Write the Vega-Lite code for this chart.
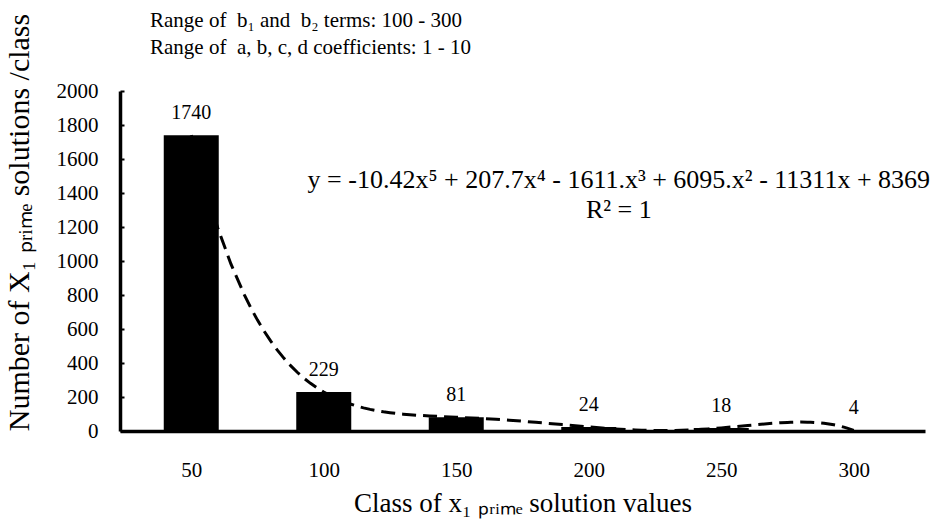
{
  "$schema": "https://vega.github.io/schema/vega-lite/v6.json",
  "width": 805,
  "height": 340,
  "autosize": {"type": "none"},
  "padding": {"left": 120, "top": 91, "right": 16, "bottom": 92},
  "background": "white",
  "config": {"font": "Liberation Serif", "view": {"stroke": null}},
  "title": {
    "text": ["Range of \u00a0b₁ and \u00a0b₂ terms: 100 - 300", "Range of \u00a0a, b, c, d coefficients: 1 - 10"],
    "frame": "group",
    "anchor": "start",
    "dx": 30,
    "fontSize": 21,
    "fontWeight": "normal",
    "color": "black",
    "lineHeight": 27,
    "offset": -45,
    "font": "Liberation Serif"
  },
  "data": {
    "values": [
      {"idx": 1, "class": 50, "count": 1740},
      {"idx": 2, "class": 100, "count": 229},
      {"idx": 3, "class": 150, "count": 81},
      {"idx": 4, "class": 200, "count": 24},
      {"idx": 5, "class": 250, "count": 18},
      {"idx": 6, "class": 300, "count": 4}
    ]
  },
  "encoding": {
    "x": {
      "field": "idx",
      "type": "quantitative",
      "scale": {"domain": [0.5, 6.5], "nice": false, "zero": false},
      "axis": {
        "title": "Class of x₁ ₚᵣᵢₘₑ solution values",
        "values": [1, 2, 3, 4, 5, 6],
        "labelExpr": "'' + datum.value * 50",
        "ticks": false,
        "grid": false,
        "domainColor": "black",
        "domainWidth": 3.5,
        "labelFontSize": 21,
        "labelColor": "black",
        "labelPadding": 28,
        "labelFont": "Liberation Serif",
        "titleFont": "Liberation Serif",
        "titleFontSize": 27,
        "titleFontWeight": "normal",
        "titleColor": "black",
        "titlePadding": 10
      }
    },
    "y": {
      "field": "count",
      "type": "quantitative",
      "scale": {"domain": [0, 2000], "nice": false},
      "axis": {
        "title": "Number of X₁ ₚᵣᵢₘₑ solutions /class",
        "values": [0, 200, 400, 600, 800, 1000, 1200, 1400, 1600, 1800, 2000],
        "format": "d",
        "grid": false,
        "tickSize": -4,
        "tickWidth": 2,
        "tickColor": "black",
        "domainColor": "black",
        "domainWidth": 3.5,
        "labelFontSize": 21,
        "labelColor": "black",
        "labelPadding": 26,
        "labelFont": "Liberation Serif",
        "titleFont": "Liberation Serif",
        "titleFontSize": 30,
        "titleFontWeight": "normal",
        "titleColor": "black",
        "titlePadding": 22,
        "titleY": 131
      }
    }
  },
  "layer": [
    {
      "transform": [{"regression": "count", "on": "idx", "method": "poly", "order": 5}],
      "mark": {"type": "line", "color": "black", "strokeWidth": 3, "strokeDash": [14, 7]}
    },
    {
      "mark": {"type": "bar", "color": "black", "width": 55}
    },
    {
      "mark": {"type": "text", "dy": -22, "baseline": "middle", "fontSize": 20, "fontWeight": "normal", "color": "black", "font": "Liberation Serif"},
      "encoding": {"text": {"field": "count", "type": "quantitative"}}
    },
    {
      "transform": [{"filter": "datum.idx == 1"}],
      "mark": {
        "type": "text",
        "text": ["y = -10.42x⁵ + 207.7x⁴ - 1611.x³ + 6095.x² - 11311x + 8369", "R² = 1"],
        "fontSize": 26,
        "fontWeight": "normal",
        "lineHeight": 30,
        "align": "center",
        "baseline": "middle",
        "color": "black",
        "font": "Liberation Serif"
      },
      "encoding": {
        "x": {"datum": 4.227, "type": "quantitative"},
        "y": {"datum": 1476, "type": "quantitative"}
      }
    }
  ]
}
